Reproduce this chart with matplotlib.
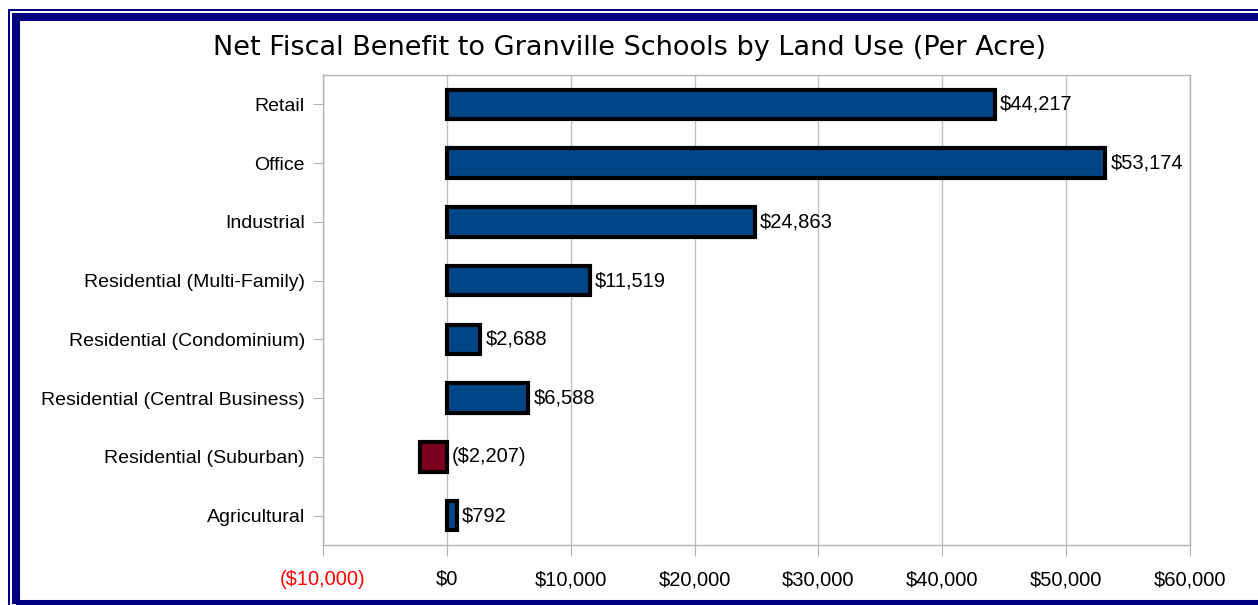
import matplotlib
matplotlib.use("Agg")
import matplotlib.pyplot as plt
from matplotlib.patches import Rectangle

# Chart data
categories = ["Retail", "Office", "Industrial", "Residential (Multi-Family)",
              "Residential (Condominium)", "Residential (Central Business)",
              "Residential (Suburban)", "Agricultural"]
values = [44217, 53174, 24863, 11519, 2688, 6588, -2207, 792]
value_labels = ["$44,217", "$53,174", "$24,863", "$11,519", "$2,688",
                "$6,588", "($2,207)", "$792"]
x_ticks = [-10000, 0, 10000, 20000, 30000, 40000, 50000, 60000]
x_tick_labels = ["($10,000)", "$0", "$10,000", "$20,000", "$30,000",
                 "$40,000", "$50,000", "$60,000"]

BLUE = "#004586"
RED = "#7e0021"
NAVY = "#000080"
GRID = "#b3b3b3"

W, H = 1258, 605
fig = plt.figure(figsize=(W / 100, H / 100), dpi=100)
ax = fig.add_axes([323 / W, (H - 545) / H, 867 / W, 470 / H])

ypos = list(range(len(categories)))
colors = [RED if v < 0 else BLUE for v in values]
ax.barh(ypos, values, height=0.5, color=colors, edgecolor="black",
        linewidth=3, zorder=3)

# value labels just right of the bar end (or of zero for the negative one)
for y, v, lab in zip(ypos, values, value_labels):
    ax.text(max(v, 0) + 420, y, lab, va="center", ha="left",
            fontsize=14.5, family="Liberation Sans", zorder=4)

ax.set_xlim(-10000, 60000)
ax.set_ylim(len(categories) - 0.5, -0.5)
ax.set_xticks(x_ticks)
ax.set_xticklabels(x_tick_labels, family="Liberation Sans", fontsize=14.5)
ax.get_xticklabels()[0].set_color("red")
ax.set_yticks(ypos)
ax.set_yticklabels(categories, family="Liberation Sans", fontsize=14)
ax.tick_params(axis="x", length=8, color=GRID, pad=10)
ax.tick_params(axis="y", length=7, color=GRID, pad=6)
ax.grid(axis="x", color="#c0c0c0", linewidth=1, zorder=0)
for s in ax.spines.values():
    s.set_color(GRID)
    s.set_linewidth(1)

fig.text(630 / W, 1 - 48 / H,
         "Net Fiscal Benefit to Granville Schools by Land Use (Per Acre)",
         ha="center", va="center", fontsize=19.5, family="DejaVu Sans")

# double navy frame around the chart
fig.patches.append(Rectangle((9 / W, -0.1), 1.2, 1 - 10 / H + 0.1,
                             transform=fig.transFigure, fill=False,
                             edgecolor=NAVY, linewidth=1.44))
fig.patches.append(Rectangle((16 / W, 1 / H), 1.2, 1 - 18 / H,
                             transform=fig.transFigure, fill=False,
                             edgecolor=NAVY, linewidth=5.8))

fig.savefig("out.png", dpi=100)
